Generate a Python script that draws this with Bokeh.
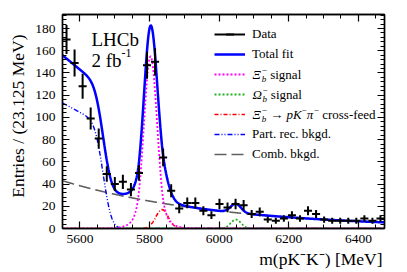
import math
import numpy as np
from bokeh.plotting import figure
from bokeh.models import (ColumnDataSource, Label, Legend, LegendItem, LinearAxis,
                          SingleIntervalTicker, Range1d, Title, CustomLabelingPolicy)
from bokeh.embed import file_html
from bokeh.resources import INLINE

# ---------------- data ----------------
bin_low = 5550.0
bin_width = 23.125
counts = [170, 149, 128, 99, 81, 49, 40, 42, 35, 50,
          147, 150, 64, 34, 18, 23, 23, 16, 12, 22,
          19, 22, 21, 13, 15, 8, 7, 9, 12, 9,
          16, 13, 8, 7, 7, 7, 7, 9, 7, 9]
x_ticks = [5600, 5800, 6000, 6200, 6400]
y_ticks = [0, 20, 40, 60, 80, 100, 120, 140, 160, 180]

# fit-component parameters (per-bin scale)
xi_sig = [155.0, 5803.0, 19.0, 1.7, 5.0]       # peak, mean, sigma, alpha, n
om_sig = [8.0, 6048.0, 15.0]                    # peak, mean, sigma
xfeed = [17.0, 5836.0, 18.0]                    # peak, mean, sigma
partrec = [113.0, 5668.0, 19.0, 0.0015]         # amp, edge, smear, slope
comb = [43.0, 450.0]                            # amp at 5550, decay length

x_lo, x_hi = 5550.0, 6475.0
y_lo, y_hi = 0.0, 192.6

# ---------------- derived ----------------
nb = len(counts)
centers = [bin_low + bin_width * (i + 0.5) for i in range(nb)]
errs = [math.sqrt(c) for c in counts]
dsrc = ColumnDataSource(dict(
    x=centers, y=counts,
    xl=[c - bin_width / 2 for c in centers], xr=[c + bin_width / 2 for c in centers],
    yl=[c - e for c, e in zip(counts, errs)], yh=[c + e for c, e in zip(counts, errs)]))

m = np.linspace(x_lo, x_hi, 800)


def dscb(x, peak, mu, s, a, n):
    t = np.abs((x - mu) / s)
    A = (n / a) ** n * math.exp(-a * a / 2)
    B = n / a - a
    core = np.exp(-0.5 * t * t)
    tail = A / (B + t) ** n
    return peak * np.where(t < a, core, tail)


def gauss(x, peak, mu, s):
    return peak * np.exp(-0.5 * ((x - mu) / s) ** 2)


c_xi = dscb(m, *xi_sig)
c_om = gauss(m, *om_sig)
c_xf = gauss(m, *xfeed)
erfc_v = np.array([math.erfc((v - partrec[1]) / (math.sqrt(2) * partrec[2])) for v in m])
c_pr = partrec[0] * (1 - partrec[3] * (m - x_lo)) * 0.5 * erfc_v
c_cb = comb[0] * np.exp(-(m - x_lo) / comb[1])
c_tot = c_xi + c_om + c_xf + c_pr + c_cb
csrc = ColumnDataSource(dict(m=m, xi=c_xi, om=c_om, xf=c_xf, pr=c_pr, cb=c_cb, tot=c_tot))

FONT = "Liberation Serif"

p = figure(width=407, height=272, x_range=Range1d(x_lo, x_hi), y_range=Range1d(y_lo, y_hi),
           output_backend="svg", toolbar_location=None,
           min_border_left=57, min_border_right=20, min_border_top=14, min_border_bottom=44,
           background_fill_color="white", border_fill_color="white",
           outline_line_color="black", outline_line_width=1.5)
p.xgrid.visible = False
p.ygrid.visible = False

xt = SingleIntervalTicker(interval=200, num_minor_ticks=4)
yt = SingleIntervalTicker(interval=20, num_minor_ticks=5)
no_labels = CustomLabelingPolicy(code="return new Set()")


def style_axis(ax, labels=True):
    ax.major_tick_in = 7
    ax.major_tick_out = 0
    ax.minor_tick_in = 4
    ax.minor_tick_out = 0
    ax.axis_line_width = 1.3
    ax.major_tick_line_width = 1.2
    ax.minor_tick_line_width = 1.0
    ax.major_label_text_font = FONT
    ax.major_label_text_font_size = "13.5px"
    ax.major_label_text_color = "black"
    if not labels:
        ax.major_label_policy = no_labels
        ax.major_label_standoff = 0


xa = p.xaxis[0]
ya = p.yaxis[0]
xa.ticker = xt
ya.ticker = yt
style_axis(xa)
style_axis(ya)
xa.major_label_standoff = 6
ya.major_label_standoff = 7
top = LinearAxis(ticker=xt)
style_axis(top, labels=False)
p.add_layout(top, "above")
right = LinearAxis(ticker=yt)
style_axis(right, labels=False)
p.add_layout(right, "right")

# axis titles (right/top aligned as in the reference)
p.add_layout(Title(text="m(pK⁻K⁻) [MeV]", align="right", text_font=FONT,
                   text_font_size="17.5px", text_font_style="normal", text_color="black",
                   standoff=2, offset=2), "below")
p.add_layout(Title(text="Entries / (23.125 MeV)", align="right", text_font=FONT,
                   text_font_size="17.5px", text_font_style="normal", text_color="black",
                   standoff=10, offset=20), "left")

# ---------------- curves ----------------
r_cb = p.line("m", "cb", source=csrc, line_color="#606060", line_width=1.6, line_dash="12 5")
r_pr = p.line("m", "pr", source=csrc, line_color="#0000ff", line_width=1.4, line_dash="5 2 1 2 1 2")
r_xf = p.line("m", "xf", source=csrc, line_color="#ff0000", line_width=1.6, line_dash="4 2 1 2")
r_om = p.line("m", "om", source=csrc, line_color="#22b022", line_width=1.8, line_dash="2 2")
r_xi = p.line("m", "xi", source=csrc, line_color="#ff00ff", line_width=1.8, line_dash="2 2")
r_tot = p.line("m", "tot", source=csrc, line_color="#0000ff", line_width=2.5)

r_h = p.segment("xl", "y", "xr", "y", source=dsrc, line_color="black", line_width=2)
r_v = p.segment("x", "yl", "x", "yh", source=dsrc, line_color="black", line_width=2)
r_mk = p.scatter(x=[float("nan")], y=[float("nan")], marker="dash", angle=math.pi / 2, size=10,
                 line_color="black", line_width=2)

legend = Legend(items=[
    LegendItem(label="Data", renderers=[r_h, r_mk]),
    LegendItem(label="Total fit", renderers=[r_tot]),
    LegendItem(label=" ", renderers=[r_xi]),
    LegendItem(label=" ", renderers=[r_om]),
    LegendItem(label=" ", renderers=[r_xf]),
    LegendItem(label="Part. rec. bkgd.", renderers=[r_pr]),
    LegendItem(label="Comb. bkgd.", renderers=[r_cb]),
], location=(152, 64), glyph_width=31, glyph_height=20, label_height=20, label_width=0,
    label_standoff=7, padding=0, margin=0, spacing=0,
    label_text_font=FONT, label_text_font_size="13px", label_text_color="black",
    border_line_alpha=0, background_fill_alpha=0)
p.add_layout(legend)

# ---------------- text (frame-relative screen units) ----------------
W = {"m": .778, "(": .333, ")": .333, "p": .5, "K": .667, "−": .564, " ": .25, "[": .333,
     "]": .333, "M": .889, "e": .444, "V": .722, "Ξ": .72, "Ω": .77, "b": .5, "→": 1.0,
     "π": .55, "2": .5, "f": .333}


def tw(s, size):
    return sum(W.get(ch, 0.5) for ch in s) * size


def lab(x, y, text, size=13, style="normal", baseline="middle", align="left", angle=0.0):
    p.add_layout(Label(x=x, y=y, x_units="screen", y_units="screen", text=text,
                       text_font=FONT, text_font_size=f"{size}px", text_font_style=style,
                       text_baseline=baseline, text_align=align, angle=angle,
                       text_color="black"))


def rich(x, y, pieces):
    cx = x
    for t, size, style, dy, adv in pieces:
        if t.strip():
            lab(cx, y + dy, t, size, style)
        if adv:
            cx += tw(t, size)
    return cx


FS = 13
SS = 9
leg_x = 190
rows = [228 - (34 + 20 * k) for k in range(7)]
xi_part = [("Ξ", FS, "italic", 0, True), ("b", SS, "italic", -4, False), ("−", SS, "normal", 5, True)]
om_part = [("Ω", FS, "italic", 0, True), ("b", SS, "italic", -4, False), ("−", SS, "normal", 5, True)]
sp = [(" ", FS, "normal", 0, True)]
rich(leg_x, rows[2], xi_part + sp + [("signal", FS, "normal", 0, True)])
rich(leg_x, rows[3], om_part + sp + [("signal", FS, "normal", 0, True)])
rich(leg_x, rows[4], xi_part + sp + [("→", FS, "normal", 0, True)] + sp +
     [("pK", FS, "italic", 0, True), ("−", SS, "normal", 5, True), ("π", FS, "italic", 0, True),
      ("−", SS, "normal", 5, True)] + sp + [("cross-feed", FS, "normal", 0, True)])

# LHCb tag
lab(29, 228 - 39, "LHCb", 19, baseline="alphabetic")
lab(29, 228 - 60, "2 fb", 19, baseline="alphabetic")
lab(29 + tw("2 fb", 19), 228 - 52, "-1", 12, baseline="alphabetic")

html = file_html(p, INLINE)
open("out.html", "w").write(html)
